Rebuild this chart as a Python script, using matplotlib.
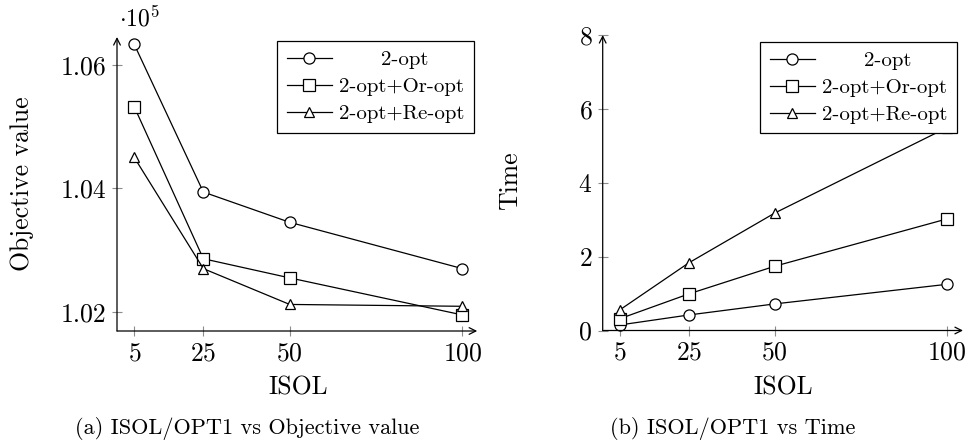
import numpy as np
import matplotlib
matplotlib.use('Agg')
import matplotlib.pyplot as plt

plt.rcParams['font.family'] = 'serif'
plt.rcParams['font.serif'] = ['cmr10']
plt.rcParams['mathtext.fontset'] = 'cm'
plt.rcParams['axes.formatter.use_mathtext'] = True

# data
isol = [5, 25, 50, 100]
methods = ['2-opt', '2-opt+Or-opt', '2-opt+Re-opt']
markers = ['o', 's', '^']
msizes = [8, 8, 6.5]

obj_2opt = [106330, 103940, 103450, 102700]
obj_oropt = [105320, 102860, 102550, 101950]
obj_reopt = [104500, 102700, 102120, 102090]

time_2opt = [0.15, 0.42, 0.72, 1.25]
time_oropt = [0.32, 0.99, 1.74, 3.02]
time_reopt = [0.56, 1.83, 3.18, 5.49]

obj_ticks = [102000, 104000, 106000]
obj_ticklabels = ['1.02', '1.04', '1.06']
time_ticks = [0, 2, 4, 6, 8]

# legend labels padded so the short one sits centred like pgfplots
leg_labels = ['      2-opt', '2-opt+Or-opt', '2-opt+Re-opt']

W, H = 969, 448
fig = plt.figure(figsize=(W / 100, H / 100), dpi=100)


def px_axes(x0, y0, x1, y1):
    return fig.add_axes([x0 / W, 1 - y1 / H, (x1 - x0) / W, (y1 - y0) / H])


def style(ax):
    for s in ['top', 'right', 'left', 'bottom']:
        ax.spines[s].set_visible(False)
    ax.annotate('', xy=(1, 0), xytext=(0, 0), xycoords='axes fraction',
                arrowprops=dict(arrowstyle='->', lw=0.9, color='k',
                                shrinkA=0, shrinkB=0, mutation_scale=12))
    ax.annotate('', xy=(0, 1), xytext=(0, 0), xycoords='axes fraction',
                arrowprops=dict(arrowstyle='->', lw=0.9, color='k',
                                shrinkA=0, shrinkB=0, mutation_scale=12))
    ax.tick_params(direction='inout', length=7, width=0.8, color='0.55',
                   labelsize=18.5, pad=4)
    ax.set_xticks(isol)


def draw(ax, series):
    for vals, m, ms, lab in zip(series, markers, msizes, leg_labels):
        ax.plot(isol, vals, color='k', lw=0.9, marker=m, ms=ms,
                mfc='white', mec='k', mew=0.9, label=lab)


def legend(ax, anchor):
    leg = ax.legend(loc='upper right', bbox_to_anchor=anchor,
                    borderaxespad=0, fontsize=15, fancybox=False,
                    framealpha=1, edgecolor='k', handlelength=2.16,
                    labelspacing=0.4, handletextpad=0.34, borderpad=0.46)
    leg.get_frame().set_linewidth(0.9)
    leg.set_zorder(10)
    return leg


# (a) objective value
ax1 = px_axes(117, 37, 477.2, 331)
style(ax1)
draw(ax1, [obj_2opt, obj_oropt, obj_reopt])
ax1.set_xlim(0, 104.3)
ax1.set_ylim(101690, 106450)
ax1.set_yticks(obj_ticks)
ax1.set_yticklabels(obj_ticklabels)
ax1.set_xlabel('ISOL', fontsize=18.5, va='center')
ax1.set_ylabel('Objective value', fontsize=18.5, va='center')
ax1.xaxis.set_label_coords(0.503, -0.194)
ax1.yaxis.set_label_coords(-0.264, 0.502)
legend(ax1, (0.991, 0.986))
fig.text(119 / W, 1 - 26 / H, r'$\cdot 10^{5}$', fontsize=17,
         ha='left', va='baseline')

# (b) time
ax2 = px_axes(602.7, 35, 963, 330.5)
style(ax2)
draw(ax2, [time_2opt, time_oropt, time_reopt])
ax2.set_xlim(0, 104.7)
ax2.set_ylim(0, 8)
ax2.set_yticks(time_ticks)
ax2.set_xlabel('ISOL', fontsize=18.5, va='center')
ax2.set_ylabel('Time', fontsize=18.5, va='center')
ax2.xaxis.set_label_coords(0.5, -0.194)
ax2.yaxis.set_label_coords(-0.257, 0.506)
legend(ax2, (0.9825, 0.977))

fig.text(247 / W, 1 - 428 / H, '(a) ISOL/OPT1 vs Objective value',
         fontsize=16, ha='center', va='center')
fig.text(733 / W, 1 - 428 / H, '(b) ISOL/OPT1 vs Time',
         fontsize=16, ha='center', va='center')

fig.savefig('out.png', dpi=100)
